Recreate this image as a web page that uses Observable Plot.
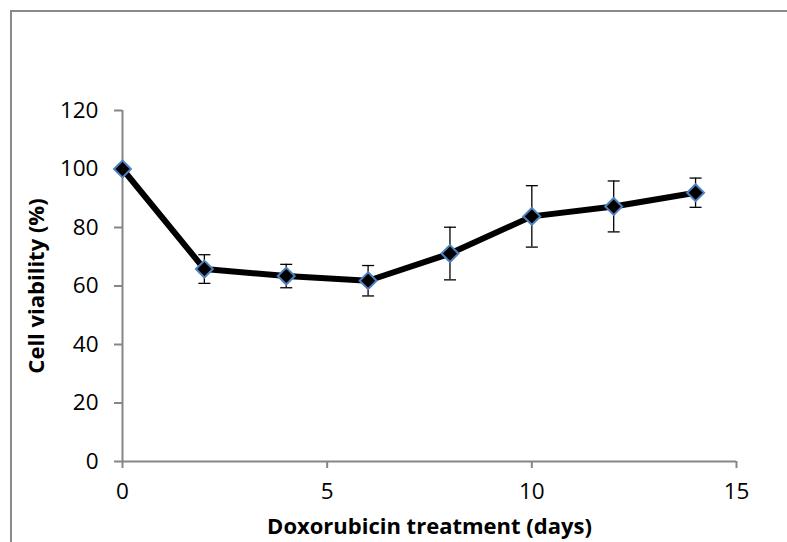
<!DOCTYPE html>
<html>
<head>
<meta charset="utf-8">
<script src="https://cdn.jsdelivr.net/npm/d3@7"></script>
<script src="https://cdn.jsdelivr.net/npm/@observablehq/plot@0.6"></script>
<style>
  html, body { margin: 0; padding: 0; background: #fff; overflow: hidden; }
  #wrap { position: relative; width: 787px; height: 542px; overflow: hidden; }
  #frame { position: absolute; left: 10px; top: 10px; width: 800px; height: 600px; border: 2px solid #8a8a8a; box-sizing: border-box; pointer-events: none; }
  #chart { position: absolute; left: 0; top: 0; }
</style>
</head>
<body>
<div id="wrap"><div id="chart"></div><div id="frame"></div></div>
<script>
const days = [0, 2, 4, 6, 8, 10, 12, 14];
const viability = [100, 65.8, 63.4, 61.8, 71.1, 83.8, 87.2, 91.9];
const errorSD = [0, 4.9, 4.0, 5.2, 9.0, 10.5, 8.7, 5.0];
const xTicks = [0, 5, 10, 15];
const yTicks = [0, 20, 40, 60, 80, 100, 120];
const xTitle = "Doxorubicin treatment (days)";
const yTitle = "Cell viability (%)";

const data = days.map((d, i) => ({day: d, v: viability[i], e: errorSD[i]}));
const errData = data.filter(d => d.e > 0);

const capSymbol = {
  draw(context, size) {
    const w = Math.sqrt(size / Math.PI);
    context.moveTo(-w, 0);
    context.lineTo(w, 0);
  }
};

const axisColor = "#868686";
const font = "'Open Sans', Lato, sans-serif";

const chart = Plot.plot({
  width: 787,
  height: 542,
  marginLeft: 122,
  marginRight: 51,
  marginTop: 110,
  marginBottom: 81,
  style: {fontFamily: font, color: "#000", background: "transparent"},
  x: {domain: [0, 15]},
  y: {domain: [0, 120]},
  marks: [
    Plot.ruleX([0], {stroke: axisColor, strokeWidth: 2, y1: 0, y2: 120}),
    Plot.ruleY([0], {stroke: axisColor, strokeWidth: 2}),
    Plot.axisY({ticks: yTicks, tickSize: 8, tickPadding: 16, stroke: axisColor, strokeWidth: 2, fill: "#000", fontSize: 22.5, label: null}),
    Plot.axisX({ticks: xTicks, tickSize: 7, tickPadding: 15, stroke: axisColor, strokeWidth: 2, fill: "#000", fontSize: 22.5, label: null}),
    Plot.text([xTitle], {frameAnchor: "bottom", lineAnchor: "middle", text: d => d, dy: 65, fontSize: 22, fontWeight: "bold", fill: "#000"}),
    Plot.text([yTitle], {frameAnchor: "left", textAnchor: "middle", lineAnchor: "middle", text: d => d, dx: -86, rotate: -90, fontSize: 22, fontWeight: "bold", fill: "#000"}),
    Plot.ruleX(errData, {x: "day", y1: d => d.v - d.e, y2: d => d.v + d.e, stroke: "#000", strokeWidth: 1.3}),
    Plot.dot(errData, {x: "day", y: d => d.v + d.e, symbol: capSymbol, r: 6, stroke: "#000", fill: "none", strokeWidth: 1.3}),
    Plot.dot(errData, {x: "day", y: d => d.v - d.e, symbol: capSymbol, r: 6, stroke: "#000", fill: "none", strokeWidth: 1.3}),
    Plot.line(data, {x: "day", y: "v", stroke: "#000", strokeWidth: 6, strokeLinejoin: "miter"}),
    Plot.dot(data, {x: "day", y: "v", symbol: "diamond2", r: 7.6, fill: "#000", stroke: "#4F81BD", strokeWidth: 2})
  ]
});
document.getElementById("chart").appendChild(chart);
</script>
</body>
</html>
